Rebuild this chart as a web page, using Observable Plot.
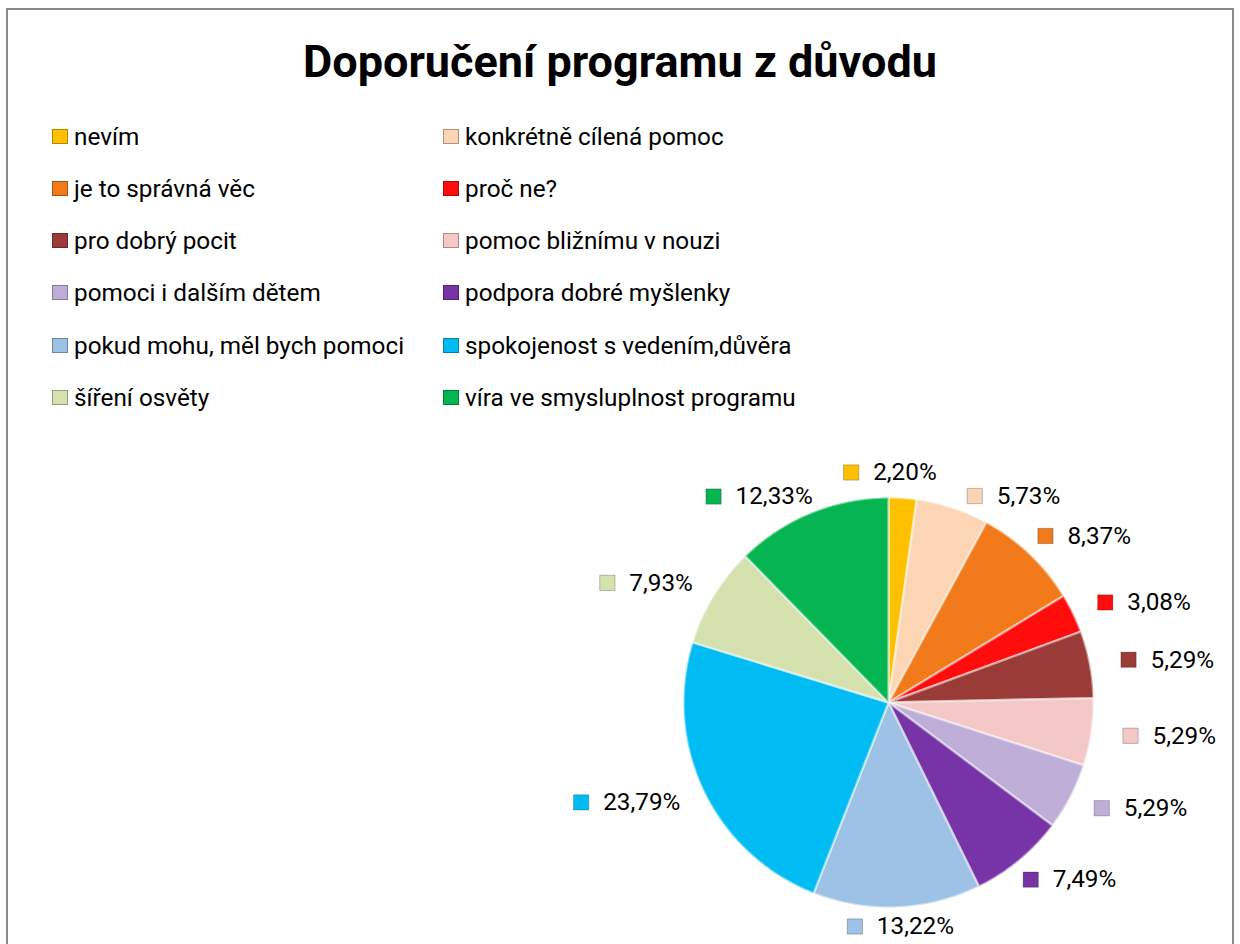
<!DOCTYPE html>
<html>
<head>
<meta charset="utf-8">
<script src="https://cdn.jsdelivr.net/npm/d3@7"></script>
<script src="https://cdn.jsdelivr.net/npm/@observablehq/plot@0.6"></script>
<style>
html, body { margin: 0; padding: 0; background: #ffffff; }
body { width: 1240px; height: 944px; overflow: hidden; position: relative; font-family: Roboto, "Open Sans", sans-serif; color: #000; }
#frame { position: absolute; left: 6px; top: 8px; width: 1228px; height: 1000px; border: 2px solid #8a8a8a; box-sizing: border-box; pointer-events: none; }
#title { height: 110px; box-sizing: border-box; padding-top: 37px; line-height: 50px; text-align: center; font-size: 45px; font-weight: 700; }
#legend { position: relative; height: 314px; }
.item { position: absolute; display: flex; align-items: center; height: 52px; font-size: 24.3px; white-space: nowrap; }
.sw { width: 16px; height: 15px; box-sizing: border-box; border: 1px solid rgba(0,0,0,0.3); margin-right: 6px; }
#chart svg { display: block; }
</style>
</head>
<body>
<div id="frame"></div>
<div id="title">Doporučení programu z důvodu</div>
<div id="legend"></div>
<div id="chart"></div>
<script>
// ---- data ----
const categories = [
  "nevím",
  "konkrétně cílená pomoc",
  "je to správná věc",
  "proč ne?",
  "pro dobrý pocit",
  "pomoc bližnímu v nouzi",
  "pomoci i dalším dětem",
  "podpora dobré myšlenky",
  "pokud mohu, měl bych pomoci",
  "spokojenost s vedením,důvěra",
  "šíření osvěty",
  "víra ve smysluplnost programu"
];
const values = [2.20, 5.73, 8.37, 3.08, 5.29, 5.29, 5.29, 7.49, 13.22, 23.79, 7.93, 12.33];
const colors = [
  "#FFC000", "#FCD5B4", "#F37A1A", "#FF0D0D", "#9B3B38", "#F4C8C6",
  "#BFAFD8", "#7634A6", "#9EC1E6", "#00BCF2", "#D5E2B0", "#05B552"
];
const fmt = v => v.toFixed(2).replace(".", ",") + "%";

// ---- legend (two columns, row-major) ----
const legend = document.getElementById("legend");
categories.forEach((c, i) => {
  const row = Math.floor(i / 2), col = i % 2;
  const el = document.createElement("div");
  el.className = "item";
  el.style.left = (col === 0 ? 52 : 443) + "px";
  el.style.top = (row * 52.33) + "px";
  const sw = document.createElement("div");
  sw.className = "sw";
  sw.style.background = colors[i];
  const tx = document.createElement("span");
  tx.textContent = c;
  el.appendChild(sw); el.appendChild(tx);
  legend.appendChild(el);
});

// ---- pie geometry ----
const W = 1240, H = 520;
const CX = 888, CY = 278, R = 205;
const total = d3.sum(values);
let cum = 0;
const slices = categories.map((c, i) => {
  const a0 = cum / total * 2 * Math.PI; cum += values[i];
  const a1 = cum / total * 2 * Math.PI;
  return {cat: c, value: values[i], label: fmt(values[i]), a0, a1, mid: (a0 + a1) / 2};
});
const polyPts = slices.flatMap(s => {
  const pts = [{cat: s.cat, x: 0, y: 0}];
  const n = Math.max(2, Math.ceil((s.a1 - s.a0) / (Math.PI / 360)));
  for (let k = 0; k <= n; k++) {
    const a = s.a0 + (s.a1 - s.a0) * k / n;
    pts.push({cat: s.cat, x: Math.sin(a), y: Math.cos(a)});
  }
  pts.push({cat: s.cat, x: 0, y: 0});
  return pts;
});

// ---- label placement (outside end, with collision avoidance) ----
const FS = 24.3;
const ctx = document.createElement("canvas").getContext("2d");
ctx.font = FS + "px Roboto";
const DX = 32, DY = 14, LH = 22;
const boxes = slices.map(s => ({s, t: s.mid, w: 30 + ctx.measureText(s.label).width, h: LH}));
function place(b) {
  const sx = Math.sin(b.t), cy = Math.cos(b.t);
  const px = CX + (R + DX) * sx, py = CY - (R + DY) * cy;
  b.cx = px + b.w / 2 * sx;
  b.cy = Math.min(py - b.h / 2 * cy, H - 18);
}
function angdiff(d) { return ((d + 3 * Math.PI) % (2 * Math.PI)) - Math.PI; }
for (let iter = 0; iter < 6000; iter++) {
  boxes.forEach(place);
  let moved = false;
  for (let i = 0; i < boxes.length; i++) for (let j = i + 1; j < boxes.length; j++) {
    const a = boxes[i], b = boxes[j];
    if (Math.abs(a.cx - b.cx) < (a.w + b.w) / 2 + 30 && Math.abs(a.cy - b.cy) < (a.h + b.h) / 2 + 4) {
      const d = angdiff(b.t - a.t);
      if (d >= 0) { a.t -= 0.002; b.t += 0.002; } else { a.t += 0.002; b.t -= 0.002; }
      moved = true;
    }
  }
  if (!moved) break;
}
boxes.forEach(place);
const labelData = boxes.map(b => {
  const left = b.cx - b.w / 2;
  return {
    cat: b.s.cat, label: b.s.label,
    mx: (left + 8 - CX) / R, tx: (left + 30 - CX) / R, y: (CY - b.cy) / R
  };
});

const chart = Plot.plot({
  width: W, height: H, margin: 0,
  x: {domain: [-CX / R, (W - CX) / R], axis: null},
  y: {domain: [-(H - CY) / R, CY / R], axis: null},
  color: {domain: categories, range: colors},
  style: {fontFamily: "Roboto, sans-serif", background: "transparent"},
  marks: [
    Plot.line(polyPts, {x: "x", y: "y", z: "cat", fill: "cat", stroke: "#ffffff", strokeOpacity: 0.45, strokeWidth: 2.5, strokeLinejoin: "round", curve: "linear"}),
    Plot.dot(labelData, {x: "mx", y: "y", fill: "cat", symbol: "square", r: 8.6, stroke: "rgba(0,0,0,0.3)", strokeWidth: 0.8}),
    Plot.text(labelData, {x: "tx", y: "y", text: "label", textAnchor: "start", lineAnchor: "middle", fontSize: FS, fill: "#000"})
  ]
});
document.getElementById("chart").appendChild(chart);
</script>
</body>
</html>
